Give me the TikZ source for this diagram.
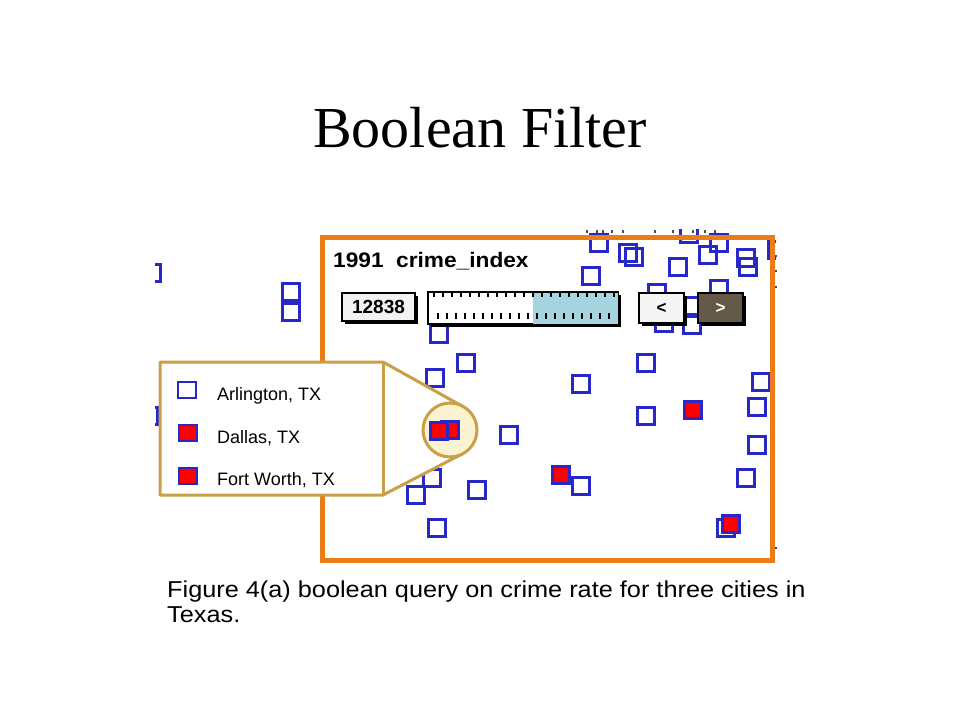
\documentclass[tikz,border=0pt]{standalone}
\usepackage{fontspec}
\setmainfont{Liberation Serif}
\newfontfamily\figfont{Liberation Sans}
\usetikzlibrary{shadows}
\definecolor{frameorange}{RGB}{235,125,25}
\definecolor{cityblue}{RGB}{40,40,200}
\definecolor{lenstan}{RGB}{200,160,70}
\definecolor{lensfill}{RGB}{250,243,210}
\definecolor{sliderblue}{RGB}{165,212,222}
\definecolor{btndark}{RGB}{100,88,72}
\tikzset{
  city/.style={draw=cityblue, line width=2.4pt, minimum size=17pt, inner sep=0pt},
  hit/.style={city, fill=red},
  widget/.style={draw=black, line width=1.2pt, inner sep=0pt,
    general shadow={fill=black, shadow xshift=2.5pt, shadow yshift=-2.5pt}},
  speck/.style={line width=1.4pt, black!70},
  figtext/.style={anchor=base west, inner sep=0pt},
}
\begin{document}
\begin{tikzpicture}[x=1pt, y=-1pt]
    \useasboundingbox (0,0) rectangle (960,720);
    %% title
    \node[anchor=base, font=\fontsize{58}{60}\selectfont] (title) at (480,147) {Boolean Filter};
    %% scatter of cities
    \begin{scope}
        \clip (155,229) rectangle (776,566);
        \foreach \x/\y [count=\i] in {152/273, 291/292, 291/312, 149/416,
            599/243, 628/253, 634/257, 591/276, 678/267, 689/234, 708/255,
            719/243, 746/258, 748/267, 777/250, 657/293, 664/323, 691/306,
            692/325, 719/289, 439/334, 466/363, 435/378, 581/384, 646/363,
            761/382, 646/416, 757/407, 509/435, 757/445, 581/486, 746/478,
            432/478, 416/495, 477/490, 437/528, 726/528}
            \node[city] (c\i) at (\x,\y) {};
        \foreach \x/\y [count=\i] in {693/410, 561/475, 731/524}
            \node[hit] (h\i) at (\x,\y) {};
    \end{scope}
    \foreach \x in {587,597,603,612,623,655,673,693,705,715}
        \draw[speck] (\x,230) -- (\x,232.5);
    \foreach \y in {256,271,287,548}
        \draw[speck] (775,\y) -- (777,\y);
    %% frame
    \draw[frameorange, line width=5pt] (322,237) rectangle (772,560);
    \node[figtext, font=\figfont\bfseries\fontsize{21}{23}\selectfont] (field) at (333,267)
        {\scalebox{1.08}[1]{1991\ \ crime\_index}};
    %% controls
    \node[widget, fill=gray!10, minimum width=73pt, minimum height=28pt,
        font=\figfont\bfseries\fontsize{19}{19}\selectfont] (count) at (378.5,307) {12838};
    \node[widget, fill=white, minimum width=190pt, minimum height=32pt] (slider) at (523,308) {};
    \fill[sliderblue] (533,292.6) rectangle ([shift={(-0.6pt,0.6pt)}]slider.south east);
    \draw[line width=1.2pt] (slider.north west) rectangle (slider.south east);
    \foreach \k in {0,...,20} {
        \draw[line width=1.2pt] (434+\k*9,292) -- ++(0,5);
        \ifnum\k<20 \draw[line width=1.2pt] (438+\k*9,313) -- ++(0,6); \fi
    }
    \node[widget, fill=gray!8, minimum width=45pt, minimum height=30pt,
        font=\figfont\bfseries\fontsize{17}{17}\selectfont] (prev) at (661.5,308) {<};
    \node[widget, fill=btndark, text=white, minimum width=45pt, minimum height=30pt,
        font=\figfont\bfseries\fontsize{17}{17}\selectfont] (next) at (720.5,308) {>};
    %% magnifier callout
    \filldraw[draw=lenstan, fill=white, line width=3pt, line join=round]
        (160,362) -- (383,362) -- (462,406) -- (462,454) -- (383,495) -- (160,495) -- cycle;
    \draw[lenstan, line width=3pt] (383,362) -- (383,495);
    \node[circle, draw=lenstan, fill=lensfill, line width=3pt, minimum size=54pt] (lens) at (450,430) {};
    \node[hit] (z1) at (450,430) {};
    \node[hit] (z2) at (439,431) {};
    %% legend
    \node[city, minimum width=18pt, minimum height=16pt] (arlBox) at (187,390) {};
    \node[hit, minimum width=18pt, minimum height=16pt] (dalBox) at (188,433) {};
    \node[hit, minimum width=18pt, minimum height=16pt] (ftwBox) at (188,476) {};
    \node[figtext, font=\figfont\fontsize{18}{20}\selectfont] (arl) at (217,400) {Arlington, TX};
    \node[figtext, font=\figfont\fontsize{18}{20}\selectfont] (dal) at (217,443) {Dallas, TX};
    \node[figtext, font=\figfont\fontsize{18}{20}\selectfont] (ftw) at (217,485) {Fort Worth, TX};
    %% caption
    \node[figtext, font=\figfont\fontsize{23}{25}\selectfont] (cap1) at (167,597)
        {\scalebox{1.1}[1]{Figure 4(a) boolean query on crime rate for three cities in}};
    \node[figtext, font=\figfont\fontsize{23}{25}\selectfont] (cap2) at (167,622)
        {\scalebox{1.1}[1]{Texas.}};
\end{tikzpicture}
\end{document}
